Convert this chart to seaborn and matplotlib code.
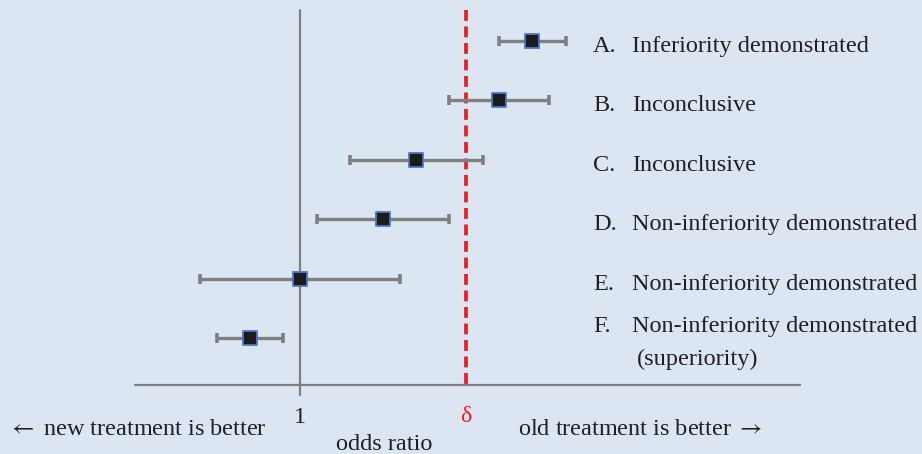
import matplotlib
matplotlib.use("Agg")
import matplotlib.pyplot as plt
import seaborn as sns
import pandas as pd

# Forest plot of odds ratios against a non-inferiority margin
labels = ["A.", "B.", "C.", "D.", "E.", "F."]
outcomes = [
    "Inferiority demonstrated",
    "Inconclusive",
    "Inconclusive",
    "Non-inferiority demonstrated",
    "Non-inferiority demonstrated",
    "Non-inferiority demonstrated\n(superiority)",
]
odds = [2.4, 2.2, 1.7, 1.5, 1.0, 0.7]
ci_low = [2.2, 1.9, 1.3, 1.1, 0.4, 0.5]
ci_high = [2.6, 2.5, 2.1, 1.9, 1.6, 0.9]
margin = 2.0  # delta

df = pd.DataFrame({"row": range(len(labels)), "odds": odds,
                   "lo": ci_low, "hi": ci_high})

sns.set_theme(style="white")
plt.rcParams["font.family"] = ["Liberation Serif", "DejaVu Serif"]
plt.rcParams["mathtext.fontset"] = "stix"

bg = "#dce6f2"
txt = "#231f20"
grey = "#7f7f7f"
red = "#ee1c25"

fig = plt.figure(figsize=(9.22, 4.54), dpi=100, facecolor=bg)
ax = fig.add_axes([0, 0, 1, 1])
ax.set_facecolor(bg)
for s in ax.spines.values():
    s.set_visible(False)
ax.set_xticks([])
ax.set_yticks([])

axis_row = 5.79
ax.set_xlim(-0.807, 4.747)
ax.set_ylim(6.953, -0.690)

# reference lines
ax.plot([0.006, 4.012], [axis_row, axis_row], color=grey, lw=1.6, zorder=1)
ax.plot([1, 1], [-0.52, axis_row + 0.17], color=grey, lw=1.6, zorder=1)
ax.plot([margin, margin], [-0.52, axis_row], color=red, lw=2.7,
        ls=(0, (2.9, 1.5)), zorder=2)

# confidence intervals
ax.errorbar(df["odds"], df["row"],
            xerr=[df["odds"] - df["lo"], df["hi"] - df["odds"]],
            fmt="none", ecolor=grey, elinewidth=2.4, capsize=3.8,
            capthick=2.6, zorder=3)

# point estimates
sns.scatterplot(data=df, x="odds", y="row", marker="s", s=95,
                color="#1c1c1c", edgecolor="#4a78c8", linewidth=1.3,
                zorder=4, ax=ax, legend=False)
ax.set_xlabel("")
ax.set_ylabel("")

# outcome labels
fs = 17.5
for i, (lab, out) in enumerate(zip(labels, outcomes)):
    if "\n" in out:
        first, second = out.split("\n")
        ax.text(2.765, i - 0.101, lab, fontsize=fs, color=txt, va="baseline", ha="left")
        ax.text(3.0, i - 0.101, first, fontsize=fs, color=txt, va="baseline", ha="left")
        ax.text(3.03, i + 0.455, second, fontsize=fs, color=txt, va="baseline", ha="left")
    else:
        ax.text(2.765, i + 0.185, lab, fontsize=fs, color=txt, va="baseline", ha="left")
        ax.text(3.0, i + 0.185, out, fontsize=fs, color=txt, va="baseline", ha="left")

# axis annotations
ax.text(1, 6.431, "1", fontsize=fs, color=txt, ha="center", va="baseline")
ax.text(margin, 6.414, "δ", fontsize=fs, color=red, ha="center", va="baseline")
ax.text(1.506, 6.89, "odds ratio", fontsize=fs, color=txt, ha="center", va="baseline")
ax.text(-0.759, 6.633, r"$\leftarrow$ new treatment is better", fontsize=fs,
        color=txt, ha="left", va="baseline")
ax.text(2.313, 6.633, r"old treatment is better $\rightarrow$", fontsize=fs,
        color=txt, ha="left", va="baseline")

fig.savefig("out.png", dpi=100, facecolor=bg)
